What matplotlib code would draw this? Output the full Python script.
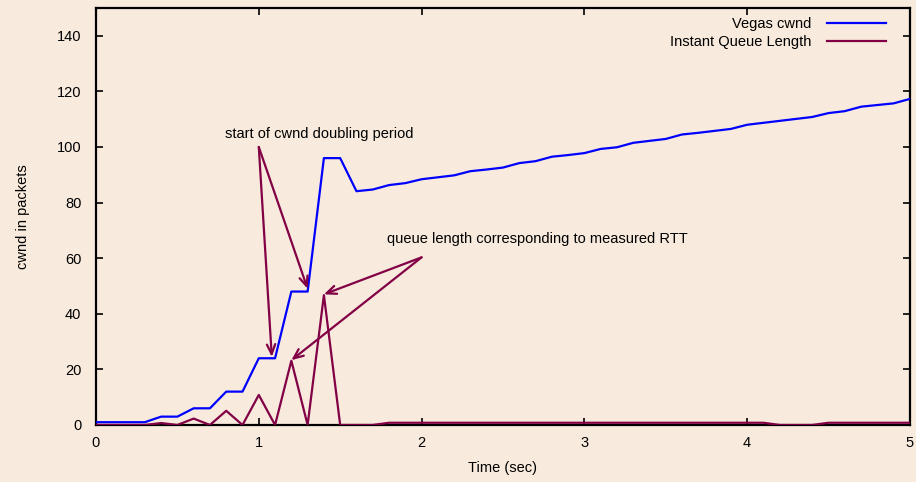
import numpy as np
import matplotlib.pyplot as plt

plt.rcParams['font.family'] = ['Liberation Sans', 'DejaVu Sans']

BG = '#f8ebdd'
BLUE = '#0000ff'
MAROON = '#820045'
FS = 10.5

# Vegas congestion window, sampled every 0.1 s
time_s = np.round(np.arange(0, 5.01, 0.1), 1)
cwnd = [1, 1, 1, 1, 3, 3, 6, 6, 12, 12,
        24, 24, 48, 48, 96, 96, 84.1, 84.7, 86.3, 87.0,
        88.4, 89.1, 89.8, 91.3, 91.9, 92.6, 94.2, 94.9, 96.5, 97.1,
        97.8, 99.3, 99.9, 101.5, 102.2, 102.9, 104.5, 105.1, 105.8, 106.5,
        108.0, 108.7, 109.4, 110.1, 110.8, 112.2, 112.9, 114.5, 115.1, 115.7,
        117.3]

# instantaneous queue length at the bottleneck
queue = [0, 0, 0, 0, 0.7, 0, 2.3, 0, 5.1, 0,
         10.8, 0, 23.1, 0, 46.7, 0, 0, 0, 0.8, 0.8,
         0.8, 0.8, 0.8, 0.8, 0.8, 0.8, 0.8, 0.8, 0.8, 0.8,
         0.8, 0.8, 0.8, 0.8, 0.8, 0.8, 0.8, 0.8, 0.8, 0.8,
         0.8, 0.8, 0, 0, 0, 0.8, 0.8, 0.8, 0.8, 0.8,
         0.8]

doubling_text = (0.79, 103.4)
doubling_targets = [(1.08, 24.5), (1.3, 49)]
doubling_origin = (1.0, 100)

rtt_text = (1.79, 65.3)
rtt_targets = [(1.4, 47), (1.2, 23.3)]
rtt_origin = (2.0, 60.3)


fig = plt.figure(figsize=(9.16, 4.82), dpi=100, facecolor=BG)
ax = fig.add_axes([0.1048, 0.1183, 0.8886, 0.8651], facecolor=BG)

ax.plot(time_s, cwnd, color=BLUE, lw=1.6, label='Vegas cwnd', zorder=3)
ax.plot(time_s, queue, color=MAROON, lw=1.6, label='Instant Queue Length', zorder=3)

ax.set_xlim(0, 5)
ax.set_ylim(0, 150)
ax.set_xticks(range(0, 6))
ax.set_yticks(range(0, 141, 20))
ax.tick_params(direction='in', length=5, width=1.2, top=True, right=True,
               labelsize=FS, colors='black')
ax.tick_params(axis='y', pad=10.5)
ax.tick_params(axis='x', pad=8)
for s in ax.spines.values():
    s.set_linewidth(1.6)

ax.set_xlabel('Time (sec)', fontsize=FS, labelpad=8)
ax.set_ylabel('cwnd in packets', fontsize=FS, labelpad=19)

arrow_style = dict(arrowstyle='->,head_length=0.7,head_width=0.3',
                   color=MAROON, lw=1.6, shrinkA=0, shrinkB=0)

ax.text(*doubling_text, 'start of cwnd doubling period', fontsize=FS)
for tgt in doubling_targets:
    ax.annotate('', xy=tgt, xytext=doubling_origin, arrowprops=arrow_style)

ax.text(*rtt_text, 'queue length corresponding to measured RTT', fontsize=FS)
for tgt in rtt_targets:
    ax.annotate('', xy=tgt, xytext=rtt_origin, arrowprops=arrow_style)

leg = ax.legend(loc='upper right', frameon=False, markerfirst=False, fontsize=FS,
                handlelength=4.0, handletextpad=1.1, labelspacing=0.3,
                borderaxespad=0.2, bbox_to_anchor=(0.981, 1.0))
for t in leg.get_texts():
    t.set_ha('right')

fig.savefig('out.png', dpi=100, facecolor=BG)
